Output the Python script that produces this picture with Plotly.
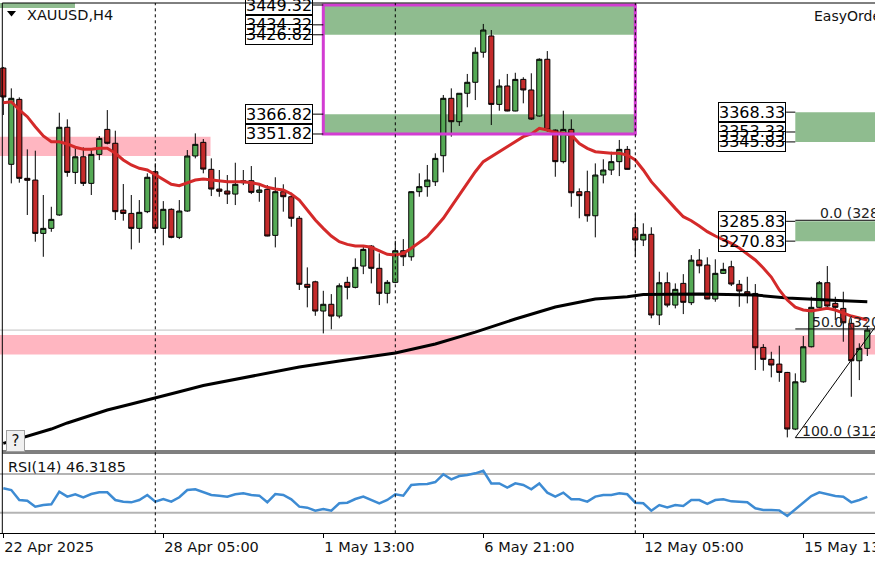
import plotly.graph_objects as go

# XAUUSD H4 bars, index 0 = 22 Apr 2025 21:00
open_ = [3401.7, 3328.9, 3378.0, 3318.3, 3317.0, 3276.7, 3280.5, 3290.6, 3356.9, 3322.8,
         3334.6, 3314.5, 3336.4, 3355.3, 3344.8, 3294.3, 3291.8, 3280.5, 3293.1, 3323.3,
         3280.5, 3294.9, 3273.7, 3293.6, 3335.2, 3345.5, 3325.1, 3310.2, 3308.7, 3306.4,
         3315.0, 3316.5, 3307.7, 3310.0, 3275.2, 3308.2, 3304.4, 3288.1, 3238.2, 3240.1,
         3218.0, 3223.1, 3214.2, 3239.7, 3235.9, 3252.0, 3267.1, 3250.3, 3231.4, 3239.7,
         3263.6, 3259.0, 3308.2, 3312.0, 3315.7, 3335.4, 3378.8, 3361.1, 3382.6, 3390.9,
         3413.6, 3425.9, 3374.2, 3388.1, 3369.2, 3393.1, 3385.1, 3365.4, 3408.3, 3354.8,
         3330.9, 3355.3, 3308.2, 3308.2, 3290.0, 3320.8, 3324.6, 3330.9, 3340.2, 3281.0,
         3271.7, 3276.0, 3215.0, 3239.4, 3222.5, 3238.9, 3224.3, 3256.5, 3252.8, 3227.1,
         3246.5, 3251.5, 3238.2, 3232.6, 3231.3, 3190.5, 3181.5, 3177.9, 3171.6, 3128.8,
         3164.5, 3191.0, 3220.8, 3239.4, 3223.8, 3220.0, 3208.7, 3180.4, 3189.8]
high = [3402.5, 3386.3, 3379.5, 3340.2, 3339.2, 3305.7, 3296.8, 3367.9, 3362.9, 3341.7,
        3341.7, 3339.7, 3350.3, 3369.9, 3354.3, 3314.0, 3305.7, 3301.9, 3322.1, 3329.6,
        3301.1, 3295.6, 3301.9, 3339.7, 3352.3, 3348.0, 3333.4, 3324.6, 3320.8, 3330.1,
        3324.6, 3327.6, 3313.2, 3313.2, 3319.1, 3313.8, 3307.4, 3289.8, 3251.0, 3240.9,
        3233.3, 3230.8, 3238.9, 3243.9, 3257.8, 3267.9, 3267.9, 3261.6, 3241.4, 3271.1,
        3272.4, 3308.5, 3322.1, 3328.4, 3337.2, 3381.3, 3386.3, 3382.6, 3397.2, 3417.3,
        3435.0, 3430.4, 3393.1, 3397.2, 3398.1, 3394.7, 3397.7, 3409.0, 3414.5, 3355.3,
        3369.4, 3362.9, 3310.7, 3324.1, 3329.6, 3332.7, 3338.4, 3347.3, 3342.7, 3291.8,
        3284.3, 3281.3, 3247.7, 3247.2, 3238.9, 3245.9, 3260.3, 3264.9, 3258.6, 3257.1,
        3254.5, 3256.0, 3241.4, 3243.9, 3238.4, 3193.0, 3187.2, 3191.8, 3172.0, 3170.9,
        3199.1, 3228.8, 3240.7, 3252.0, 3228.8, 3232.6, 3212.5, 3193.6, 3206.6]
low = [3366.2, 3314.5, 3315.0, 3290.6, 3270.4, 3259.0, 3277.9, 3290.0, 3319.5, 3314.0,
       3312.5, 3305.7, 3332.1, 3344.0, 3286.8, 3286.3, 3264.6, 3269.6, 3292.0, 3277.2,
       3267.7, 3273.0, 3272.4, 3293.0, 3333.4, 3322.1, 3304.9, 3304.4, 3298.9, 3298.1,
       3313.2, 3306.4, 3300.6, 3274.5, 3266.1, 3293.1, 3281.7, 3233.9, 3220.8, 3214.4,
       3201.1, 3204.2, 3212.5, 3226.8, 3235.1, 3245.9, 3238.9, 3222.5, 3223.8, 3239.0,
       3252.0, 3256.0, 3304.4, 3304.4, 3312.5, 3322.8, 3349.8, 3357.9, 3372.0, 3377.5,
       3409.5, 3358.6, 3369.4, 3369.0, 3369.0, 3375.0, 3362.4, 3365.0, 3353.5, 3319.5,
       3329.6, 3296.8, 3288.1, 3285.5, 3273.7, 3314.5, 3320.8, 3320.0, 3325.0, 3259.0,
       3267.1, 3212.5, 3207.4, 3220.8, 3220.0, 3215.7, 3222.5, 3246.5, 3227.0, 3225.0,
       3246.0, 3236.9, 3221.2, 3223.8, 3173.4, 3172.9, 3167.9, 3164.5, 3122.5, 3128.0,
       3163.8, 3190.5, 3220.5, 3220.0, 3211.2, 3194.8, 3153.2, 3165.8, 3184.0]
close = [3379.8, 3378.8, 3318.3, 3316.8, 3276.7, 3280.5, 3287.3, 3356.9, 3322.8, 3334.6,
         3314.5, 3336.4, 3348.5, 3344.8, 3293.1, 3291.8, 3280.5, 3292.6, 3319.1, 3280.5,
         3294.9, 3273.7, 3293.6, 3335.2, 3344.0, 3325.3, 3310.2, 3308.5, 3306.4, 3313.8,
         3316.5, 3307.7, 3309.5, 3274.7, 3308.2, 3304.4, 3288.1, 3238.2, 3235.9, 3218.0,
         3223.1, 3214.2, 3237.1, 3235.9, 3251.0, 3264.6, 3250.3, 3231.4, 3239.7, 3263.6,
         3259.0, 3308.2, 3312.0, 3317.0, 3333.4, 3378.8, 3361.1, 3382.6, 3390.9, 3413.6,
         3430.4, 3374.2, 3388.1, 3369.2, 3393.1, 3385.1, 3363.1, 3408.3, 3354.8, 3330.9,
         3355.3, 3307.4, 3305.2, 3290.0, 3320.8, 3324.6, 3330.9, 3340.2, 3325.1, 3271.7,
         3276.0, 3215.0, 3239.4, 3222.5, 3234.4, 3224.6, 3256.5, 3252.2, 3227.1, 3246.5,
         3249.5, 3238.4, 3233.1, 3230.8, 3190.2, 3181.5, 3177.2, 3171.6, 3128.8, 3164.5,
         3191.0, 3220.8, 3239.4, 3221.8, 3220.8, 3209.1, 3180.4, 3189.8, 3203.6]

# red moving average, read per bar
red_ma = [3375.5, 3376.2, 3370.0, 3364.9, 3357.3, 3350.3, 3346.0, 3346.0, 3344.3, 3341.8,
          3340.3, 3340.3, 3341.0, 3341.0, 3337.2, 3332.2, 3328.4, 3325.9, 3324.6, 3320.8,
          3317.0, 3313.8, 3312.7, 3315.0, 3317.0, 3317.8, 3317.0, 3316.3, 3315.8, 3315.8,
          3315.8, 3315.0, 3313.8, 3311.5, 3310.2, 3309.5, 3306.5, 3301.9, 3294.4, 3286.8,
          3280.5, 3274.7, 3270.4, 3268.4, 3267.2, 3267.2, 3266.2, 3263.6, 3260.9, 3260.4,
          3261.6, 3265.4, 3269.6, 3274.2, 3281.1, 3288.1, 3296.9, 3305.7, 3314.5, 3323.3,
          3330.9, 3334.7, 3338.4, 3341.8, 3346.0, 3349.8, 3351.8, 3356.1, 3354.8, 3352.8,
          3352.3, 3351.1, 3344.6, 3341.0, 3338.4, 3337.7, 3337.2, 3337.2, 3335.9, 3332.2,
          3324.6, 3315.8, 3308.9, 3301.9, 3295.6, 3289.3, 3286.3, 3282.3, 3278.0, 3274.7,
          3272.2, 3269.2, 3265.6, 3261.1, 3256.6, 3250.5, 3243.7, 3233.9, 3226.3, 3221.0,
          3218.8, 3218.0, 3218.8, 3220.1, 3218.8, 3216.5, 3214.2, 3212.7, 3211.2]

# slow black moving average, read at these bars
black_idx = [0, 3, 6, 8, 10, 13, 16, 19, 22, 25, 30, 37, 42, 49, 54, 59, 64, 69, 74, 78,
             80, 87, 94, 98, 105, 108]
black_ma = [3118.0, 3123.5, 3128.8, 3133.4, 3137.1, 3143.2, 3147.7, 3152.6, 3157.0, 3161.7,
            3167.4, 3175.7, 3180.2, 3186.3, 3193.1, 3202.1, 3212.0, 3221.0, 3227.1, 3228.8,
            3230.5, 3230.9, 3230.1, 3227.9, 3225.8, 3225.0]

rsi = [55.2, 53.4, 43.1, 42.4, 36.2, 37.9, 38.6, 51.7, 46.6, 49.0, 45.9, 49.3, 51.0, 51.0,
       43.1, 41.4, 40.7, 43.1, 48.3, 41.4, 44.1, 41.4, 45.9, 53.4, 54.1, 51.0, 48.3, 47.6,
       46.6, 49.0, 50.0, 48.3, 47.6, 40.7, 49.3, 48.3, 43.8, 36.2, 35.2, 32.1, 33.8, 32.1,
       39.7, 40.3, 44.1, 46.6, 43.1, 39.7, 43.1, 49.0, 47.6, 58.6, 59.3, 59.7, 61.7, 69.7,
       64.5, 67.9, 69.0, 70.7, 73.4, 60.3, 60.3, 55.9, 60.3, 58.6, 54.1, 60.3, 50.7, 46.6,
       50.7, 43.8, 43.8, 41.4, 46.6, 48.3, 48.3, 50.0, 49.0, 40.3, 39.7, 32.1, 37.9, 35.5,
       37.9, 36.9, 43.1, 43.1, 39.0, 43.1, 43.8, 41.7, 41.4, 40.7, 34.5, 32.8, 32.8, 32.4,
       26.6, 33.4, 40.3, 47.2, 51.0, 49.0, 47.2, 46.6, 40.7, 43.1, 46.3]

tick_bars = [0, 20, 40, 60, 80, 100]
tick_text = ["22 Apr 2025", "28 Apr 05:00", "1 May 13:00", "6 May 21:00", "12 May 05:00", "15 May 13:00"]
separator_bars = [19, 49, 79]

box_levels = [3449.32, 3434.32, 3426.82, 3366.82, 3351.82]
right_levels = [3368.33, 3353.33, 3345.83, 3285.83, 3270.83]
fib_0, fib_100 = 3286.60, 3122.30

W, H = 875, 562
FONT = "DejaVu Sans"
GREEN_ZONE = "#8fbc8f"
PINK_ZONE = "#ffb6c1"

def px(x):
    return x / W

def py(y):
    return 1 - y / H

bars = list(range(len(close)))
fig = go.Figure()

fig.add_trace(go.Candlestick(
    x=bars, open=open_, high=high, low=low, close=close,
    increasing=dict(line=dict(color="black", width=1), fillcolor="#55aa55"),
    decreasing=dict(line=dict(color="black", width=1), fillcolor="#c42b2b"),
    whiskerwidth=0, showlegend=False, yaxis="y"))
fig.add_trace(go.Scatter(x=black_idx, y=black_ma, mode="lines", line=dict(color="black", width=3),
                         showlegend=False, yaxis="y"))
fig.add_trace(go.Scatter(x=bars, y=red_ma, mode="lines", line=dict(color="#d42a2a", width=3),
                         showlegend=False, yaxis="y"))
fig.add_trace(go.Scatter(x=bars, y=rsi, mode="lines", line=dict(color="#3d8bd3", width=2.5),
                         showlegend=False, yaxis="y2"))

shapes = []
# zones
shapes.append(dict(type="rect", x0=-1, x1=8.96, y0=3447.1, y1=3470, fillcolor=GREEN_ZONE, line_width=0, layer="below"))
shapes.append(dict(type="rect", x0=-1, x1=25.9, y0=3335.2, y1=3349.8, fillcolor=PINK_ZONE, line_width=0, layer="below"))
shapes.append(dict(type="rect", x0=-1, x1=115, y0=3185.15, y1=3199.9, fillcolor=PINK_ZONE, line_width=0, layer="below"))
shapes.append(dict(type="rect", x0=40, x1=79, y0=box_levels[2], y1=box_levels[0], fillcolor=GREEN_ZONE, line_width=0, layer="below"))
shapes.append(dict(type="rect", x0=40, x1=79, y0=box_levels[4], y1=box_levels[3], fillcolor=GREEN_ZONE, line_width=0, layer="below"))
shapes.append(dict(type="rect", x0=99, x1=115, y0=right_levels[2], y1=right_levels[0], fillcolor=GREEN_ZONE, line_width=0, layer="below"))
shapes.append(dict(type="rect", x0=99, x1=115, y0=right_levels[4], y1=right_levels[3], fillcolor=GREEN_ZONE, line_width=0, layer="below"))
# bid line
shapes.append(dict(type="line", xref="paper", x0=0, x1=1, y0=close[-1], y1=close[-1],
                   line=dict(color="#c0c0c0", width=1), layer="below"))
# rsi levels
for lv in [70, 30]:
    shapes.append(dict(type="line", xref="paper", yref="y2", x0=0, x1=1, y0=lv, y1=lv,
                       line=dict(color="#b4b4b4", width=2), layer="below"))
# magenta box
shapes.append(dict(type="rect", x0=40, x1=79, y0=box_levels[4], y1=box_levels[0],
                   line=dict(color="#d23cd2", width=3)))
# price label connectors
for lv in box_levels:
    shapes.append(dict(type="line", x0=38.7, x1=40, y0=lv, y1=lv, line=dict(color="black", width=1)))
for lv in right_levels:
    shapes.append(dict(type="line", x0=97.85, x1=99, y0=lv, y1=lv, line=dict(color="black", width=1)))
# fibonacci
fib_50 = (fib_0 + fib_100) / 2
for lv in [fib_0, fib_50, fib_100]:
    shapes.append(dict(type="line", x0=99, x1=115, y0=lv, y1=lv, line=dict(color="black", width=1)))
shapes.append(dict(type="line", x0=99, x1=118.6, y0=fib_100, y1=fib_0, line=dict(color="black", width=1)))
# period separators
for b in separator_bars:
    shapes.append(dict(type="line", x0=b, x1=b, yref="paper", y0=py(533.3), y1=py(3),
                       line=dict(color="black", width=1, dash="dot")))
# frame
for yy in [3, 451, 453]:
    shapes.append(dict(type="line", xref="paper", yref="paper", x0=px(2.3), x1=1, y0=py(yy), y1=py(yy),
                       line=dict(color="black", width=1)))
shapes.append(dict(type="line", xref="paper", yref="paper", x0=px(2.3), x1=px(2.3), y0=py(533.3), y1=py(3),
                   line=dict(color="black", width=1)))
# symbol menu triangle
shapes.append(dict(type="path", xref="paper", yref="paper",
                   path=f"M {px(7)},{py(11)} L {px(16)},{py(11)} L {px(11.5)},{py(16.5)} Z",
                   fillcolor="black", line_width=0))

annotations = []
annotations.append(dict(text="XAUUSD,H4", xref="paper", yref="paper", x=px(25), y=py(15),
                        xanchor="left", yanchor="middle", showarrow=False,
                        font=dict(family=FONT, size=14.5, color="#111111")))
annotations.append(dict(text="EasyOrder", xref="paper", yref="paper", x=px(812), y=py(16),
                        xanchor="left", yanchor="middle", showarrow=False,
                        font=dict(family=FONT, size=14, color="#111111")))
annotations.append(dict(text="RSI(14) 46.3185", xref="paper", yref="paper", x=px(6), y=py(467),
                        xanchor="left", yanchor="middle", showarrow=False,
                        font=dict(family=FONT, size=14.5, color="#111111")))
annotations.append(dict(text="?", xref="paper", yref="paper", x=px(15.5), y=py(441),
                        xanchor="center", yanchor="middle", showarrow=False, width=15, height=18,
                        bgcolor="#f0f0f0", bordercolor="#a0a0a0", borderwidth=1,
                        font=dict(family=FONT, size=15, color="#111111")))
for lv in box_levels:
    annotations.append(dict(text=f"{lv:.2f}", x=38.7, y=lv, xanchor="right", yanchor="middle",
                            showarrow=False, bordercolor="black", borderwidth=1, borderpad=0,
                            font=dict(family=FONT, size=16, color="black")))
for lv in right_levels:
    annotations.append(dict(text=f"{lv:.2f}", x=97.85, y=lv, xanchor="right", yanchor="middle",
                            showarrow=False, bordercolor="black", borderwidth=1, borderpad=0,
                            font=dict(family=FONT, size=16, color="black")))
for name, lv, xb in [("0.0", fib_0, 101.8), ("50.0", fib_50, 100.8), ("100.0", fib_100, 99.6)]:
    annotations.append(dict(text=f"{name} ({lv:.2f})", x=xb, y=lv, xanchor="left", yanchor="bottom",
                            showarrow=False, yshift=-3,
                            font=dict(family=FONT, size=14, color="#222222")))

fig.update_layout(
    width=W, height=H,
    margin=dict(l=0, r=0, t=0, b=0, autoexpand=False),
    paper_bgcolor="white", plot_bgcolor="white",
    boxgap=0.2, boxgroupgap=0.2,
    shapes=shapes, annotations=annotations,
    xaxis=dict(range=[-0.4125, 108.9625], anchor="y2", showgrid=False, zeroline=False,
               automargin=False, rangeslider=dict(visible=False),
               showline=True, linecolor="black", linewidth=1,
               tickmode="array", tickvals=tick_bars, ticktext=tick_text,
               ticks="outside", ticklen=4, tickcolor="black",
               ticklabelposition="outside right", ticklabeloverflow="allow",
               tickfont=dict(family=FONT, size=14.5, color="#111111")),
    yaxis=dict(domain=[py(451), py(3)], range=[3112.21, 3450.83], visible=False,
               automargin=False, fixedrange=True),
    yaxis2=dict(domain=[py(533.3), py(453)], range=[8.67, 91.72], visible=False,
                automargin=False, fixedrange=True),
)

# the page's default body margin would push the figure 8px off the window
fig.write_html("out.html", config={"displayModeBar": False},
               post_script="document.body.style.margin='0px';")
